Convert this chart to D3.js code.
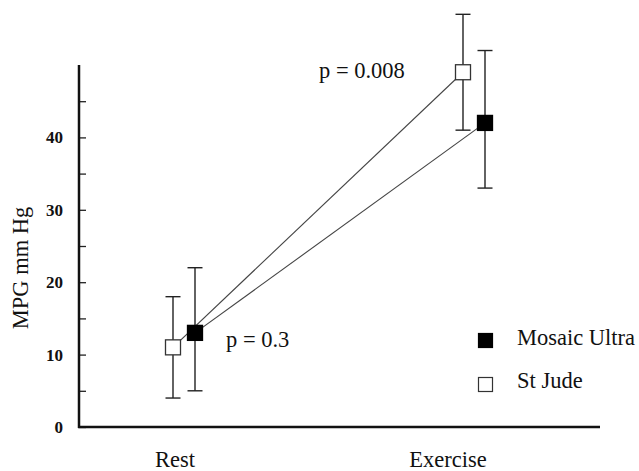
<!DOCTYPE html>
<html>
<head>
<meta charset="utf-8">
<script src="https://cdn.jsdelivr.net/npm/d3@7"></script>
<style>
  body { margin: 0; background: #fff; }
  text { font-family: "Liberation Serif", "Times New Roman", serif; fill: #111; }
</style>
</head>
<body>
<script>
// Chart size
const width = 639;
const height = 471;

// Data
const categories = ['Rest', 'Exercise'];
const seriesNames = ['St Jude', 'Mosaic Ultra'];
const stJudeMean = [11, 49];
const stJudeLow = [4, 41];
const stJudeHigh = [18, 57];
const mosaicMean = [13, 42];
const mosaicLow = [5, 33];
const mosaicHigh = [22, 52];
const pLabels = ['p = 0.3', 'p = 0.008'];
const yTicks = [0, 10, 20, 30, 40];
const yMinorTicks = [5, 15, 25, 35, 45];

const series = [
  { name: seriesNames[0], mean: stJudeMean, low: stJudeLow, high: stJudeHigh, filled: false, offset: -11 },
  { name: seriesNames[1], mean: mosaicMean, low: mosaicLow, high: mosaicHigh, filled: true, offset: 11 }
];

const svg = d3.select('body')
  .append('svg')
  .attr('width', width)
  .attr('height', height);

// Scales
const x = d3.scalePoint()
  .domain(categories)
  .range([184, 474]);

const y = d3.scaleLinear()
  .domain([0, 50])
  .range([427, 65]);

const x0 = 79, x1 = 600;

// Y axis: ticks point inward
const yAxis = svg.append('g')
  .attr('transform', `translate(${x0},0)`)
  .call(d3.axisRight(y).tickValues(yTicks.concat(yMinorTicks)).tickSize(7).tickFormat(''));
yAxis.select('.domain').remove();
yAxis.selectAll('line').attr('stroke', '#222').attr('stroke-width', 1.3);

svg.append('line')
  .attr('x1', x0).attr('x2', x0)
  .attr('y1', y(50)).attr('y2', y(0) + 1)
  .attr('stroke', '#111').attr('stroke-width', 2.5);

svg.append('line')
  .attr('x1', x0 - 1).attr('x2', x1)
  .attr('y1', y(0)).attr('y2', y(0))
  .attr('stroke', '#111').attr('stroke-width', 2.5);

// Y tick labels
svg.selectAll('.ylab')
  .data(yTicks)
  .enter()
  .append('text')
  .attr('class', 'ylab')
  .text(d => d)
  .attr('x', 63)
  .attr('y', d => y(d) + 6)
  .attr('text-anchor', 'end')
  .attr('font-weight', 'bold')
  .attr('font-size', '17px');

// Category labels
const labelDx = [-9, -26];
svg.selectAll('.xlab')
  .data(categories)
  .enter()
  .append('text')
  .attr('class', 'xlab')
  .text(d => d)
  .attr('x', (d, i) => x(d) + labelDx[i])
  .attr('y', 467)
  .attr('text-anchor', 'middle')
  .attr('font-size', '22.5px');

// Y axis title
svg.append('text')
  .text('MPG mm Hg')
  .attr('transform', 'translate(28,268) rotate(-90)')
  .attr('text-anchor', 'middle')
  .attr('font-size', '22.5px');

// Connecting lines
const line = d3.line()
  .x(d => d[0])
  .y(d => d[1]);

series.forEach(s => {
  svg.append('path')
    .attr('d', line(categories.map((c, i) => [x(c) + s.offset, y(s.mean[i])])))
    .attr('fill', 'none')
    .attr('stroke', '#444')
    .attr('stroke-width', 1.1);
});

// Error bars and markers
const sq = 15, cap = 15;
series.forEach(s => {
  const g = svg.append('g');
  categories.forEach((c, i) => {
    const cx = x(c) + s.offset;
    g.append('line')
      .attr('x1', cx).attr('x2', cx)
      .attr('y1', y(s.high[i])).attr('y2', y(s.low[i]))
      .attr('stroke', '#222').attr('stroke-width', 1.4);
    [s.high[i], s.low[i]].forEach(v => {
      g.append('line')
        .attr('x1', cx - cap / 2).attr('x2', cx + cap / 2)
        .attr('y1', y(v)).attr('y2', y(v))
        .attr('stroke', '#222').attr('stroke-width', 1.4);
    });
    g.append('rect')
      .attr('x', cx - sq / 2)
      .attr('y', y(s.mean[i]) - sq / 2)
      .attr('width', sq)
      .attr('height', sq)
      .attr('fill', s.filled ? '#000' : '#fff')
      .attr('stroke', s.filled ? '#000' : '#333')
      .attr('stroke-width', 1.3);
  });
});

// p values
const pPos = [[226, 347], [319, 78]];
svg.selectAll('.plab')
  .data(pLabels)
  .enter()
  .append('text')
  .attr('class', 'plab')
  .text(d => d)
  .attr('x', (d, i) => pPos[i][0])
  .attr('y', (d, i) => pPos[i][1])
  .attr('font-size', '22.5px');

// Legend
const legend = svg.append('g')
  .attr('transform', 'translate(478,333)');

[series[1], series[0]].forEach((s, i) => {
  legend.append('rect')
    .attr('x', 0.5)
    .attr('y', i * 44 + 0.5)
    .attr('width', 14)
    .attr('height', 14)
    .attr('fill', s.filled ? '#000' : '#fff')
    .attr('stroke', s.filled ? '#000' : '#333')
    .attr('stroke-width', 1.2);
  legend.append('text')
    .text(s.name)
    .attr('x', 39)
    .attr('y', i * 43 + 12)
    .attr('font-size', '22.5px');
});
</script>
</body>
</html>
